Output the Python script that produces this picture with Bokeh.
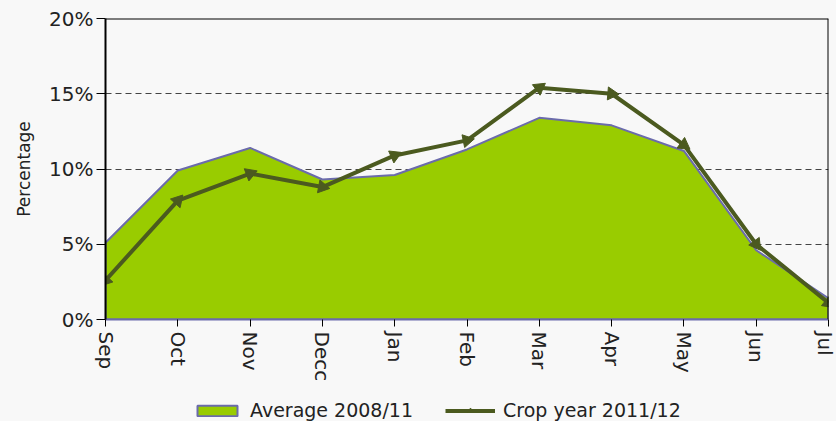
import math
from bokeh.plotting import figure
from bokeh.layouts import column
from bokeh.models import (Range1d, FixedTicker, Span, Legend, LegendItem,
                          ColumnDataSource, PrintfTickFormatter)
from bokeh.embed import file_html
from bokeh.resources import INLINE

months = ["Sep", "Oct", "Nov", "Decc", "Jan", "Feb", "Mar", "Apr", "May", "Jun", "Jul"]
average = [5.1, 9.9, 11.4, 9.3, 9.6, 11.3, 13.4, 12.9, 11.2, 4.6, 1.4]
crop = [2.6, 7.9, 9.7, 8.8, 10.9, 11.9, 15.4, 15.0, 11.6, 5.0, 1.1]
y_ticks = [0, 5, 10, 15, 20]
grid_ticks = [5, 10, 15]
series_labels = ["Average 2008/11", "Crop year 2011/12"]

FONT = "DejaVu Sans"
BG = "#f8f8f8"
AREA = "#99cc00"
AREA_LINE = "#6b6bab"
LINE = "#4b5a1f"

FW, FH = 723, 301
xs = list(range(len(months)))
xmax = len(months) - 1
ymax = y_ticks[-1]

p = figure(frame_width=FW, frame_height=FH,
           x_range=Range1d(0, xmax), y_range=Range1d(0, ymax),
           output_backend="svg", toolbar_location=None,
           min_border_left=105, min_border_top=18, min_border_right=8,
           min_border_bottom=76,
           background_fill_color=BG, border_fill_color=BG,
           outline_line_color=None)

# area (patch closed along baseline)
px = [xs[0]] + xs + [xs[-1]]
py = [0] + average + [0]
p.patch(px, py, fill_color=AREA, line_color=AREA_LINE, line_width=2)

# line
p.line(xs, crop, line_color=LINE, line_width=4)

# arrow-like markers, oriented along the incoming segment (screen space)
sx = FW / xmax
sy = FH / ymax
angles = []
for i in range(len(xs)):
    if i == 0:
        dx = (xs[0] - xs[1]) * sx
        dy = (crop[0] - crop[1]) * sy
    else:
        dx = (xs[i] - xs[i - 1]) * sx
        dy = (crop[i] - crop[i - 1]) * sy
    angles.append(math.atan2(dy, dx) - math.pi / 2)
src = ColumnDataSource(dict(x=xs, y=crop, angle=angles))
p.scatter("x", "y", source=src, marker="triangle", size=13, angle="angle",
          fill_color=LINE, line_color=LINE)

# frame lines top/right
p.add_layout(Span(location=ymax, dimension="width", line_color="black", line_width=2))
p.add_layout(Span(location=xmax, dimension="height", line_color="black", line_width=2))

# grid
p.xgrid.grid_line_color = None
p.ygrid.ticker = FixedTicker(ticks=grid_ticks)
p.ygrid.grid_line_color = "#444444"
p.ygrid.grid_line_dash = "6 4"
p.ygrid.grid_line_width = 1

# y axis
p.yaxis.ticker = FixedTicker(ticks=y_ticks)
p.yaxis.formatter = PrintfTickFormatter(format="%d%%")
p.yaxis.axis_line_color = "black"
p.yaxis.axis_line_width = 2
p.yaxis.major_tick_line_color = "black"
p.yaxis.major_tick_out = 9
p.yaxis.major_tick_in = 0
p.yaxis.minor_tick_line_color = None
p.yaxis.major_label_text_font = FONT
p.yaxis.major_label_text_font_size = "20px"
p.yaxis.major_label_text_color = "#222222"
p.yaxis.major_label_standoff = 3
p.yaxis.axis_label = "Percentage"
p.yaxis.axis_label_text_font = FONT
p.yaxis.axis_label_text_font_size = "17px"
p.yaxis.axis_label_text_font_style = "normal"
p.yaxis.axis_label_text_color = "#222222"
p.yaxis.axis_label_standoff = 12

# x axis
p.xaxis.ticker = FixedTicker(ticks=xs)
p.xaxis.major_label_overrides = {i: m for i, m in zip(xs, months)}
p.xaxis.major_label_orientation = "vertical"
p.xaxis.axis_line_color = AREA_LINE
p.xaxis.axis_line_width = 2
p.xaxis.major_tick_line_color = "black"
p.xaxis.major_tick_out = 7
p.xaxis.major_tick_in = 0
p.xaxis.minor_tick_line_color = None
p.xaxis.major_label_text_font = FONT
p.xaxis.major_label_text_font_size = "20px"
p.xaxis.major_label_text_color = "#222222"
p.xaxis.major_label_standoff = 5

# legend strip (separate figure so the legend is not clipped); the dummy
# renderers sit outside the visible range and only provide legend glyphs
lf = figure(width=836, height=26, x_range=Range1d(0, 1), y_range=Range1d(0, 1),
            output_backend="svg", toolbar_location=None,
            min_border_left=0, min_border_right=0, min_border_top=0, min_border_bottom=0,
            background_fill_color=BG, border_fill_color=BG, outline_line_color=None)
lf.axis.visible = False
lf.grid.visible = False
l_area = lf.patch([-3, -2, -2], [-3, -3, -2], fill_color=AREA, line_color=AREA_LINE,
                  line_width=2)
l_line = lf.line([-3, -2], [-3, -3], line_color=LINE, line_width=4)
l_mark = lf.scatter([-5], [-5], marker="triangle", size=13,
                    fill_color=LINE, line_color=LINE)
legend = Legend(items=[
    LegendItem(label=series_labels[0], renderers=[l_area], index=0),
    LegendItem(label=series_labels[1], renderers=[l_line, l_mark], index=0),
], orientation="horizontal", location=(87, 0),
    label_text_font=FONT, label_text_font_size="19px", label_text_color="#222222",
    glyph_width=50, glyph_height=13, label_standoff=8, spacing=32,
    padding=2, margin=0, border_line_color=None, background_fill_color=BG,
    background_fill_alpha=0.0)
lf.add_layout(legend, "center")

layout = column(p, lf, spacing=0, styles={"background-color": BG})
open("out.html", "w").write(file_html(layout, INLINE))
